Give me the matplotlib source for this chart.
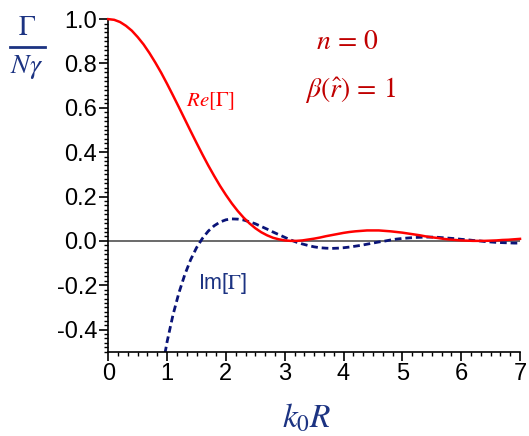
import matplotlib
matplotlib.use("Agg")
import matplotlib.pyplot as plt
from matplotlib.ticker import MultipleLocator

plt.rcParams['font.family'] = ['Liberation Sans', 'DejaVu Sans']
plt.rcParams['mathtext.fontset'] = 'stix'

# k0R axis values
k0R = [0.0, 0.1, 0.2, 0.3, 0.4, 0.5, 0.6, 0.7, 0.8, 0.9,
       1.0, 1.1, 1.2, 1.3, 1.4, 1.5, 1.6, 1.7, 1.8, 1.9,
       2.0, 2.1, 2.2, 2.3, 2.4, 2.5, 2.6, 2.7, 2.8, 2.9,
       3.0, 3.1, 3.2, 3.3, 3.4, 3.5, 3.6, 3.7, 3.8, 3.9,
       4.0, 4.1, 4.2, 4.3, 4.4, 4.5, 4.6, 4.7, 4.8, 4.9,
       5.0, 5.1, 5.2, 5.3, 5.4, 5.5, 5.6, 5.7, 5.8, 5.9,
       6.0, 6.1, 6.2, 6.3, 6.4, 6.5, 6.6, 6.7, 6.8, 6.9, 7.0]

# Re[Gamma]
re_gamma = [1.000, 0.997, 0.987, 0.970, 0.948, 0.919, 0.886, 0.847, 0.804, 0.758,
            0.708, 0.656, 0.603, 0.549, 0.495, 0.442, 0.390, 0.340, 0.293, 0.248,
            0.207, 0.169, 0.135, 0.105, 0.079, 0.057, 0.039, 0.025, 0.014, 0.007,
            0.002, 0.000, 0.000, 0.002, 0.006, 0.010, 0.015, 0.021, 0.026, 0.031,
            0.036, 0.040, 0.043, 0.045, 0.047, 0.047, 0.047, 0.045, 0.043, 0.040,
            0.037, 0.033, 0.029, 0.025, 0.020, 0.016, 0.013, 0.009, 0.006, 0.004,
            0.002, 0.001, 0.000, 0.000, 0.000, 0.001, 0.002, 0.004, 0.005, 0.007, 0.009]

# Im[Gamma] (starts below the axis near k0R = 0.97)
k0R_im = k0R[9:]
im_gamma = [-0.601,
            -0.455, -0.334, -0.235, -0.153, -0.085, -0.031, 0.011, 0.044, 0.068, 0.085,
            0.095, 0.099, 0.098, 0.094, 0.086, 0.077, 0.065, 0.053, 0.040, 0.028,
            0.016, 0.004, -0.006, -0.014, -0.021, -0.027, -0.031, -0.033, -0.034, -0.033,
            -0.031, -0.028, -0.024, -0.020, -0.015, -0.010, -0.005, -0.001, 0.004, 0.008,
            0.011, 0.013, 0.015, 0.016, 0.017, 0.017, 0.016, 0.014, 0.012, 0.010,
            0.007, 0.005, 0.002, 0.000, -0.003, -0.005, -0.007, -0.008, -0.009, -0.010, -0.010]

navy = '#1c3382'

fig = plt.figure(figsize=(5.29, 4.36), dpi=100)
ax = fig.add_axes([0.2047, 0.1933, 0.7783, 0.7628])

ax.axhline(0, color='#505050', lw=1.2, zorder=1)
ax.plot(k0R, re_gamma, color='#ff0000', lw=1.8, clip_on=False, zorder=3)
ax.plot(k0R_im, im_gamma, color='#0a1478', lw=2.0, dashes=(2.4, 1.4), zorder=2)

ax.set_xlim(0, 7)
ax.set_ylim(-0.5, 1.0)

# only left and bottom axes
ax.spines['top'].set_visible(False)
ax.spines['right'].set_visible(False)
ax.spines['left'].set_linewidth(1.2)
ax.spines['bottom'].set_linewidth(1.2)

ax.xaxis.set_major_locator(MultipleLocator(1))
ax.xaxis.set_minor_locator(MultipleLocator(1 / 6))
ax.yaxis.set_minor_locator(MultipleLocator(0.02))
ax.set_yticks([-0.4, -0.2, 0.0, 0.2, 0.4, 0.6, 0.8, 1.0])
ax.set_yticklabels(['-0.4', '-0.2', '0.0', '0.2', '0.4', '0.6', '0.8', '1.0'])
ax.tick_params(which='major', direction='out', length=6.5, width=1.2, labelsize=17, pad=1.5)
ax.tick_params(which='minor', direction='out', length=3, width=1.0)

# curve labels and parameters
ax.text(1.73, 0.631, r'$Re[\Gamma]$', color='#ff0000', fontsize=15, ha='center', va='center')
ax.text(1.94, -0.191, r'Im[$\mathrm{\Gamma}$]', color=navy, fontsize=15.5, ha='center', va='center')
ax.text(4.06, 0.897, r'$n\,=\,0$', color='#c00000', fontsize=20, ha='center', va='center')
ax.text(4.11, 0.680, r'$\beta(\hat{r})\,=\,1$', color='#c00000', fontsize=20, ha='center', va='center')

# y label as a fraction
fig.text(27 / 529, 1 - 28 / 436, r'$\Gamma$', color=navy, fontsize=20, ha='center', va='center')
fig.add_artist(plt.Line2D([10 / 529, 45 / 529], [1 - 47.5 / 436, 1 - 47.5 / 436],
                          color=navy, lw=2, transform=fig.transFigure))
fig.text(27 / 529, 1 - 67 / 436, r'$N\gamma$', color=navy, fontsize=20, ha='center', va='center')

# x label
fig.text(306.7 / 529, 1 - 418 / 436, r'$k_0R$', color=navy, fontsize=24, ha='center', va='center')

plt.savefig('out.png', dpi=100)
